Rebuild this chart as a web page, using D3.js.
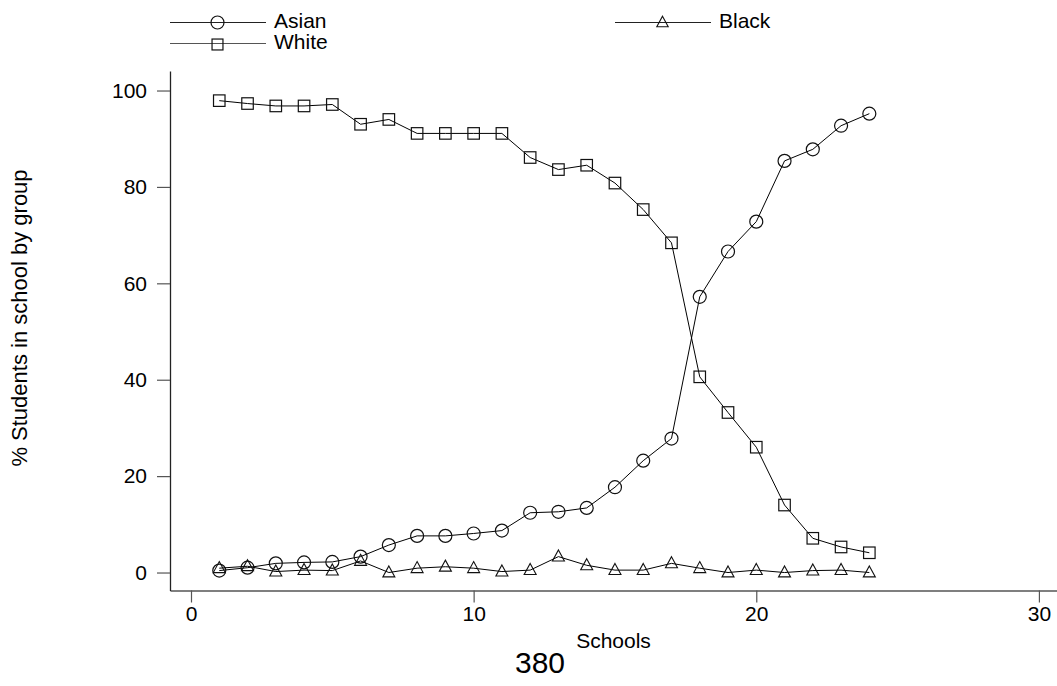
<!DOCTYPE html>
<html>
<head>
<meta charset="utf-8">
<script src="https://cdn.jsdelivr.net/npm/d3@7"></script>
<style>
  html, body { margin: 0; padding: 0; background: #fff; }
  svg { display: block; }
  text { font-family: "Liberation Sans", Arial, sans-serif; fill: #000; }
</style>
</head>
<body>
<svg id="chart" width="1057" height="686"></svg>
<script>
// ---- data ----
const schools = [1,2,3,4,5,6,7,8,9,10,11,12,13,14,15,16,17,18,19,20,21,22,23,24];
const asian = [0.4,1.0,1.9,2.1,2.2,3.3,5.7,7.6,7.6,8.1,8.7,12.4,12.6,13.4,17.7,23.2,27.8,57.2,66.6,72.8,85.4,87.8,92.7,95.2];
const black = [0.9,1.3,0.2,0.5,0.4,2.4,0.0,0.9,1.2,0.9,0.2,0.5,3.3,1.5,0.5,0.5,1.9,0.9,0.0,0.5,0.0,0.4,0.5,0.0];
const white = [97.9,97.3,96.8,96.8,97.1,93.0,94.0,91.1,91.1,91.1,91.1,86.1,83.6,84.5,80.8,75.3,68.4,40.6,33.2,26.0,14.0,7.1,5.3,4.1];
const xTicks = [0,10,20,30];
const yTicks = [0,20,40,60,80,100];
const seriesNames = ["Asian","Black","White"];
const xTitle = "Schools";
const yTitle = "% Students in school by group";
const footer = "380";

// ---- layout ----
const svg = d3.select("#chart");
const xDomain = [-0.743, 30.64];
const yDomain = [-3.73, 104.05];
const x = d3.scaleLinear().domain(xDomain).range([170, 1057]);
const y = d3.scaleLinear().domain(yDomain).range([590.5, 71]);

const axisColor = "#555";
const FS = 21;

// x axis
const gx = svg.append("g").attr("transform", `translate(0,${y(yDomain[0])})`)
  .call(d3.axisBottom(x).tickValues(xTicks).tickSizeInner(12).tickSizeOuter(0).tickPadding(4).tickFormat(d3.format("d")));
gx.select(".domain").attr("stroke", axisColor).attr("stroke-width", 1.3);
gx.selectAll(".tick line").attr("stroke", axisColor).attr("stroke-width", 1.2);
gx.selectAll(".tick text").attr("font-size", FS).attr("font-family", "Liberation Sans, Arial, sans-serif").attr("fill", "#000");

// y axis
const gy = svg.append("g").attr("transform", `translate(${x(xDomain[0])},0)`)
  .call(d3.axisLeft(y).tickValues(yTicks).tickSizeInner(13).tickSizeOuter(0).tickPadding(10).tickFormat(d3.format("d")));
gy.select(".domain").attr("stroke", "#222").attr("stroke-width", 1.3);
gy.selectAll(".tick line").attr("stroke", axisColor).attr("stroke-width", 1.2);
gy.selectAll(".tick text").attr("font-size", FS).attr("font-family", "Liberation Sans, Arial, sans-serif").attr("fill", "#000");

// titles
svg.append("text").attr("x", (x.range()[0] + x.range()[1]) / 2).attr("y", 648)
  .attr("text-anchor", "middle").attr("font-size", 21).text(xTitle);
svg.append("text").attr("transform", "translate(27,318) rotate(-90)")
  .attr("text-anchor", "middle").attr("font-size", 22).text(yTitle);
svg.append("text").attr("x", 540).attr("y", 673)
  .attr("text-anchor", "middle").attr("font-size", 30).text(footer);

// series
const symbols = { Asian: "circle", Black: "triangle", White: "square" };
const dataMap = { Asian: asian, Black: black, White: white };
const line = d3.line().x(d => x(d[0])).y(d => y(d[1]));

function drawMarker(g, type, cx, cy, k) {
  k = k || 1;
  if (type === "circle") {
    g.append("circle").attr("cx", cx).attr("cy", cy).attr("r", 6.5 * k)
      .attr("fill", "none").attr("stroke", "#111").attr("stroke-width", 1.2);
  } else if (type === "square") {
    const s = 11.5 * k;
    g.append("rect").attr("x", cx - s / 2).attr("y", cy - s / 2).attr("width", s).attr("height", s)
      .attr("fill", "none").attr("stroke", "#111").attr("stroke-width", 1.2);
  } else {
    const w = 12 * k, h = 11 * k;
    g.append("path").attr("d", `M${cx},${cy - h * 0.6}L${cx + w / 2},${cy + h * 0.4}L${cx - w / 2},${cy + h * 0.4}Z`)
      .attr("fill", "none").attr("stroke", "#111").attr("stroke-width", 1.1);
  }
}

["White", "Asian", "Black"].forEach(name => {
  const pts = schools.map((s, i) => [s, dataMap[name][i]]);
  const g = svg.append("g");
  g.append("path").attr("d", line(pts)).attr("fill", "none").attr("stroke", "#000").attr("stroke-width", 1);
  pts.forEach(p => drawMarker(g, symbols[name], x(p[0]), y(p[1])));
});

// legend
const legendPos = {
  Asian: { x: 170, y: 22.5 },
  Black: { x: 615, y: 22.5 },
  White: { x: 170, y: 43.5 }
};
seriesNames.forEach(name => {
  const p = legendPos[name];
  const g = svg.append("g");
  g.append("line").attr("x1", p.x).attr("x2", p.x + 96).attr("y1", p.y).attr("y2", p.y)
    .attr("stroke", name === "White" ? "#555" : "#222").attr("stroke-width", 1.1);
  drawMarker(g, symbols[name], p.x + 47.5, p.y + (name === "White" ? 1 : 0), name === "Asian" ? 1 : 0.95);
  g.append("text").attr("x", p.x + 104).attr("y", p.y + 5.5).attr("font-size", 21).text(name);
});
</script>
</body>
</html>
